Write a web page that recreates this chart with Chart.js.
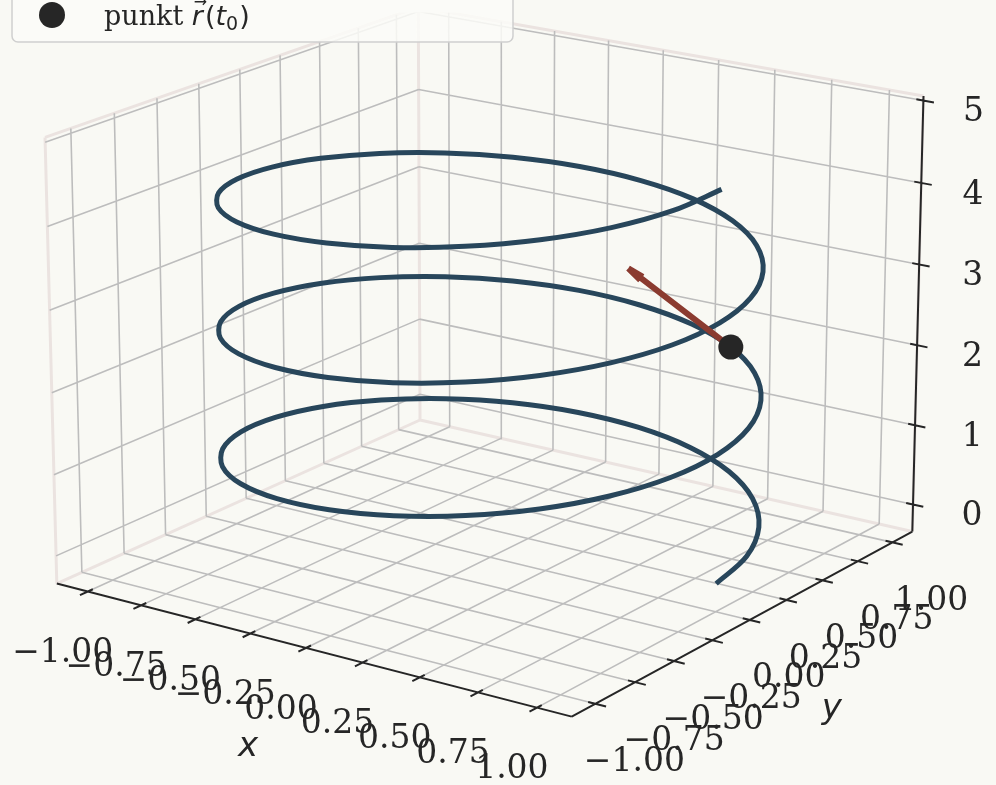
<!DOCTYPE html>
<html>
<head>
<meta charset="utf-8">
<script src="https://cdn.jsdelivr.net/npm/chart.js@4.4.1/dist/chart.umd.min.js"></script>
<style>
  html, body { margin: 0; padding: 0; background: #f9f9f4; }
  #wrap { width: 996px; height: 785px; }
</style>
</head>
<body>
<div id="wrap"><canvas id="myChart" width="996" height="785"></canvas></div>
<script>
// ticks on the three axes
const tickX = [-1, -0.75, -0.5, -0.25, 0, 0.25, 0.5, 0.75, 1];
const tickY = [-1, -0.75, -0.5, -0.25, 0, 0.25, 0.5, 0.75, 1];
const tickZ = [0, 1, 2, 3, 4, 5];
const tickLabelsX = ["\u22121.00", "\u22120.75", "\u22120.50", "\u22120.25", "0.00", "0.25", "0.50", "0.75", "1.00"];
const tickLabelsY = ["\u22121.00", "\u22120.75", "\u22120.50", "\u22120.25", "0.00", "0.25", "0.50", "0.75", "1.00"];
const tickLabelsZ = ["0", "1", "2", "3", "4", "5"];

// helix samples (3 turns, read every 15 degrees)
const helixX = [
  1, 0.966, 0.866, 0.707, 0.5, 0.259, 0, -0.259, -0.5, -0.707, -0.866, -0.966,
  -1, -0.966, -0.866, -0.707, -0.5, -0.259, 0, 0.259, 0.5, 0.707, 0.866, 0.966,
  1, 0.966, 0.866, 0.707, 0.5, 0.259, 0, -0.259, -0.5, -0.707, -0.866, -0.966,
  -1, -0.966, -0.866, -0.707, -0.5, -0.259, 0, 0.259, 0.5, 0.707, 0.866, 0.966,
  1, 0.966, 0.866, 0.707, 0.5, 0.259, 0, -0.259, -0.5, -0.707, -0.866, -0.966,
  -1, -0.966, -0.866, -0.707, -0.5, -0.259, 0, 0.259, 0.5, 0.707, 0.866, 0.966,
  1
];
const helixY = [
  0, 0.259, 0.5, 0.707, 0.866, 0.966, 1, 0.966, 0.866, 0.707, 0.5, 0.259,
  0, -0.259, -0.5, -0.707, -0.866, -0.966, -1, -0.966, -0.866, -0.707, -0.5, -0.259,
  0, 0.259, 0.5, 0.707, 0.866, 0.966, 1, 0.966, 0.866, 0.707, 0.5, 0.259,
  0, -0.259, -0.5, -0.707, -0.866, -0.966, -1, -0.966, -0.866, -0.707, -0.5, -0.259,
  0, 0.259, 0.5, 0.707, 0.866, 0.966, 1, 0.966, 0.866, 0.707, 0.5, 0.259,
  0, -0.259, -0.5, -0.707, -0.866, -0.966, -1, -0.966, -0.866, -0.707, -0.5, -0.259,
  0
];
const helixZ = [
  0.000, 0.065, 0.131, 0.196, 0.262, 0.327, 0.393, 0.458, 0.524, 0.589, 0.654, 0.720,
  0.785, 0.851, 0.916, 0.982, 1.047, 1.113, 1.178, 1.244, 1.309, 1.374, 1.440, 1.505,
  1.571, 1.636, 1.702, 1.767, 1.833, 1.898, 1.963, 2.029, 2.094, 2.160, 2.225, 2.291,
  2.356, 2.422, 2.487, 2.553, 2.618, 2.683, 2.749, 2.814, 2.880, 2.945, 3.011, 3.076,
  3.142, 3.207, 3.272, 3.338, 3.403, 3.469, 3.534, 3.600, 3.665, 3.731, 3.796, 3.861,
  3.927, 3.992, 4.058, 4.123, 4.189, 4.254, 4.320, 4.385, 4.451, 4.516, 4.581, 4.647,
  4.712
];

// the point r(t0) and its tangent arrow
const pointT0 = [0.5, 0.866, 1.833];
const tangentT0 = [-0.75, 0.43, 0.22];
const legendText = "punkt ";

// view settings (like matplotlib 3d)
const ELEV = 18, AZIM = -55, DIST = 10;
const LIMX = [-1.146, 1.146], LIMY = [-1.146, 1.146], LIMZ = [-0.344, 5.056];
const ASPECT = [1.1429, 1.1429, 0.8571];
const X0 = 490, Y0 = 338, PXU = 558.5; // screen placement of the box centre

const el = ELEV * Math.PI / 180, az = AZIM * Math.PI / 180;
const W = [Math.cos(el) * Math.cos(az), Math.cos(el) * Math.sin(az), Math.sin(el)];
const U = [-Math.sin(az), Math.cos(az), 0];
const V = [-Math.sin(el) * Math.cos(az), -Math.sin(el) * Math.sin(az), Math.cos(el)];

function norm(v, lim, a) { return (v - (lim[0] + lim[1]) / 2) / (lim[1] - lim[0]) * a; }
function dot(a, b) { return a[0] * b[0] + a[1] * b[1] + a[2] * b[2]; }
function proj(x, y, z) {
  const b = [norm(x, LIMX, ASPECT[0]), norm(y, LIMY, ASPECT[1]), norm(z, LIMZ, ASPECT[2])];
  const f = DIST / (DIST - dot(W, b));
  return { x: dot(U, b) * f, y: dot(V, b) * f };
}
const GAP = { x: null, y: null };

// build line lists
function lines(list) {
  const out = [];
  list.forEach(function (l) { out.push(proj.apply(null, l[0]), proj.apply(null, l[1]), GAP); });
  return out;
}
const xa = LIMX[0], xb = LIMX[1], ya = LIMY[0], yb = LIMY[1], za = LIMZ[0], zb = LIMZ[1];

var gridSegs = [];
tickY.forEach(function (t) { // left wall x = xmin
  gridSegs.push([[xa, t, za], [xa, t, zb]]);
  gridSegs.push([[xa, t, za], [xb, t, za]]); // floor
});
tickX.forEach(function (t) { // right wall y = ymax
  gridSegs.push([[t, yb, za], [t, yb, zb]]);
  gridSegs.push([[t, ya, za], [t, yb, za]]); // floor
});
tickZ.forEach(function (t) {
  gridSegs.push([[xa, ya, t], [xa, yb, t]]);
  gridSegs.push([[xa, yb, t], [xb, yb, t]]);
});

var paneSegs = [
  [[xa, ya, zb], [xa, yb, zb]], [[xa, yb, zb], [xb, yb, zb]],
  [[xa, ya, za], [xa, ya, zb]], [[xa, yb, za], [xa, yb, zb]], [[xb, yb, za], [xb, yb, zb]],
  [[xa, ya, za], [xa, yb, za]], [[xa, yb, za], [xb, yb, za]]
];

var axisSegs = [
  [[xa, ya, za], [xb, ya, za]],
  [[xb, ya, za], [xb, yb, za]],
  [[xb, yb, za], [xb, yb, zb]]
];
const TIN = 0.03, TOUT = 0.045;
tickX.forEach(function (t) { axisSegs.push([[t, ya + TIN, za], [t, ya - TOUT, za]]); });
tickY.forEach(function (t) { axisSegs.push([[xb - TIN, t, za], [xb + TOUT, t, za]]); });
tickZ.forEach(function (t) { axisSegs.push([[xb - TIN, yb, t], [xb + TOUT, yb, t]]); });

var helixPts = helixX.map(function (x, i) { return proj(x, helixY[i], helixZ[i]); });

const pStart = proj(pointT0[0], pointT0[1], pointT0[2]);
const pTip = proj(pointT0[0] + tangentT0[0], pointT0[1] + tangentT0[1], pointT0[2] + tangentT0[2]);
function headLine(sign) {
  const dx = pStart.x - pTip.x, dy = pStart.y - pTip.y;
  const a = sign * 7 * Math.PI / 180, k = 0.13;
  return { x: pTip.x + k * (dx * Math.cos(a) - dy * Math.sin(a)), y: pTip.y + k * (dx * Math.sin(a) + dy * Math.cos(a)) };
}
var arrowPts = [pStart, pTip, GAP, pTip, headLine(1), GAP, pTip, headLine(-1)];

// text layer: tick labels, axis labels, legend
const textPlugin = {
  id: "textLayer",
  afterDraw: function (chart) {
    const c = chart.ctx, sx = chart.scales.x, sy = chart.scales.y;
    function px(p) { return [sx.getPixelForValue(p.x), sy.getPixelForValue(p.y)]; }
    c.save();
    c.fillStyle = "#262626";
    c.textAlign = "center";
    c.textBaseline = "middle";
    c.font = "33px 'DejaVu Serif'";
    tickX.forEach(function (t, i) {
      const p = px(proj(t, ya, za));
      c.fillText(tickLabelsX[i], p[0] - 25, p[1] + 62);
    });
    tickY.forEach(function (t, i) {
      const p = px(proj(xb, t, za));
      c.fillText(tickLabelsY[i], p[0] + 39, p[1] + 59);
    });
    tickZ.forEach(function (t, i) {
      const p = px(proj(xb, yb, t));
      c.fillText(tickLabelsZ[i], p[0] + 59 - 9 * i / 5, p[1] + 12);
    });
    c.font = "italic 34px 'DejaVu Sans'";
    let p = px(proj(0, ya, za));
    c.fillText("x", p[0] - 58, p[1] + 99);
    p = px(proj(xb, 0, za));
    c.fillText("y", p[0] + 82, p[1] + 89);

    // legend (top part is cut off)
    c.beginPath();
    c.roundRect(12, -40, 501, 82, 6);
    c.fillStyle = "rgba(251,251,248,0.85)";
    c.fill();
    c.lineWidth = 1.5;
    c.strokeStyle = "#cfcfcf";
    c.stroke();
    c.beginPath();
    c.arc(52, 15, 13, 0, Math.PI * 2);
    c.fillStyle = "#262626";
    c.fill();
    c.textAlign = "left";
    c.textBaseline = "alphabetic";
    c.font = "27px 'DejaVu Serif'";
    c.fillText(legendText, 104, 25);
    let x = 104 + c.measureText(legendText).width;
    c.font = "italic 27px 'DejaVu Sans'";
    c.fillText("r", x, 25);
    const rw = c.measureText("r").width;
    c.font = "16px 'DejaVu Sans'";
    c.fillText("\u2192", x + 2, 7);
    x += rw + 2;
    c.font = "27px 'DejaVu Sans'";
    c.fillText("(", x, 25);
    x += c.measureText("(").width;
    c.font = "italic 27px 'DejaVu Sans'";
    c.fillText("t", x, 25);
    x += c.measureText("t").width;
    c.font = "19px 'DejaVu Sans'";
    c.fillText("0", x, 30);
    x += c.measureText("0").width + 1;
    c.font = "27px 'DejaVu Sans'";
    c.fillText(")", x, 25);
    c.restore();
  }
};

new Chart(document.getElementById("myChart"), {
  type: "scatter",
  data: {
    datasets: [
      { data: [pStart], pointRadius: 12.5, pointBackgroundColor: "#262626", pointBorderWidth: 0, order: 0 },
      { data: arrowPts, showLine: true, pointRadius: 0, borderColor: "#8b3b30", borderWidth: 6, order: 1 },
      { data: helixPts, showLine: true, pointRadius: 0, borderColor: "#28465b", borderWidth: 5, tension: 0.33, order: 2 },
      { data: lines(axisSegs), showLine: true, pointRadius: 0, borderColor: "#262626", borderWidth: 2, order: 3 },
      { data: lines(gridSegs), showLine: true, pointRadius: 0, borderColor: "#bdbdbd", borderWidth: 1.6, order: 4 },
      { data: lines(paneSegs), showLine: true, pointRadius: 0, borderColor: "#ebe3e0", borderWidth: 3, order: 5 }
    ]
  },
  options: {
    responsive: false,
    animation: false,
    devicePixelRatio: 1,
    layout: { padding: 0 },
    scales: {
      x: { type: "linear", display: false, min: -X0 / PXU, max: (996 - X0) / PXU },
      y: { type: "linear", display: false, min: -(785 - Y0) / PXU, max: Y0 / PXU }
    },
    plugins: { legend: { display: false }, tooltip: { enabled: false } }
  },
  plugins: [textPlugin]
});
</script>
</body>
</html>
